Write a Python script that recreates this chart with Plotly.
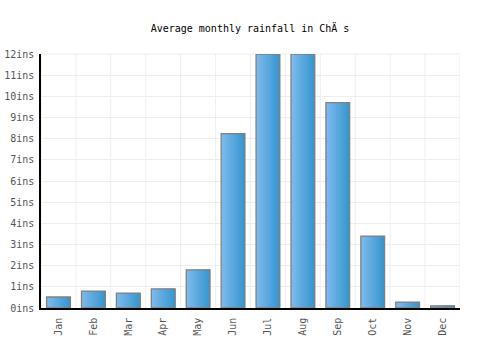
import plotly.graph_objects as go

months = ["Jan", "Feb", "Mar", "Apr", "May", "Jun", "Jul", "Aug", "Sep", "Oct", "Nov", "Dec"]
rainfall = [0.52, 0.8, 0.7, 0.9, 1.8, 8.24, 12.0, 12.0, 9.7, 3.4, 0.28, 0.1]
y_ticks = list(range(0, 13))
y_labels = [f"{v}ins" for v in y_ticks]

fig = go.Figure()
bar_w = 0.68
n = 14
c0 = (124, 186, 236)
c1 = (56, 150, 208)
for i in range(n):
    t = i / (n - 1)
    col = tuple(round(c0[k] + (c1[k] - c0[k]) * t) for k in range(3))
    off = -bar_w / 2 + i * bar_w / n
    fig.add_trace(go.Bar(
        x=months, y=rainfall, width=bar_w / 2 - off,
        offset=off,
        marker=dict(color=f"rgb{col}", line=dict(width=0)),
        hoverinfo="skip", showlegend=False,
    ))
fig.add_trace(go.Bar(
    x=months, y=rainfall, width=bar_w, offset=-bar_w / 2,
    marker=dict(color="rgba(0,0,0,0)", line=dict(color="#808080", width=1.3)),
    showlegend=False,
))

font = "DejaVu Sans Mono, monospace"
fig.update_layout(
    width=500, height=350,
    margin=dict(l=41, r=40, t=54, b=42),
    paper_bgcolor="white", plot_bgcolor="white",
    barmode="overlay",
    title=dict(text="Average monthly rainfall in ChÄ s", x=0.5, xanchor="center",
               y=1 - 28 / 350, yanchor="middle",
               font=dict(family=font, size=10, color="black")),
    xaxis=dict(
        range=[-0.5, 11.5], tickangle=-90, automargin=False,
        showgrid=False, showline=True, linecolor="black", linewidth=1.5,
        ticks="outside", ticklen=4, tickcolor="rgba(0,0,0,0)",
        tickfont=dict(family=font, size=10, color="#555"),
    ),
    yaxis=dict(
        range=[0, 12], tickvals=y_ticks, ticktext=y_labels, automargin=False,
        showgrid=True, gridcolor="#eeeeee", gridwidth=1,
        showline=True, linecolor="black", linewidth=1.5,
        ticks="outside", ticklen=3, tickcolor="rgba(0,0,0,0)",
        tickfont=dict(family=font, size=10, color="#555"),
        zeroline=False,
    ),
)
for k in range(13):
    fig.add_shape(type="line", xref="x", yref="paper", x0=k - 0.5, x1=k - 0.5,
                  y0=0, y1=1, line=dict(color="#eeeeee", width=1), layer="below")
fig.add_shape(type="line", xref="paper", yref="paper", x0=0, x1=1, y0=1, y1=1,
              line=dict(color="#eeeeee", width=1), layer="below")

fig.write_html("out.html")
